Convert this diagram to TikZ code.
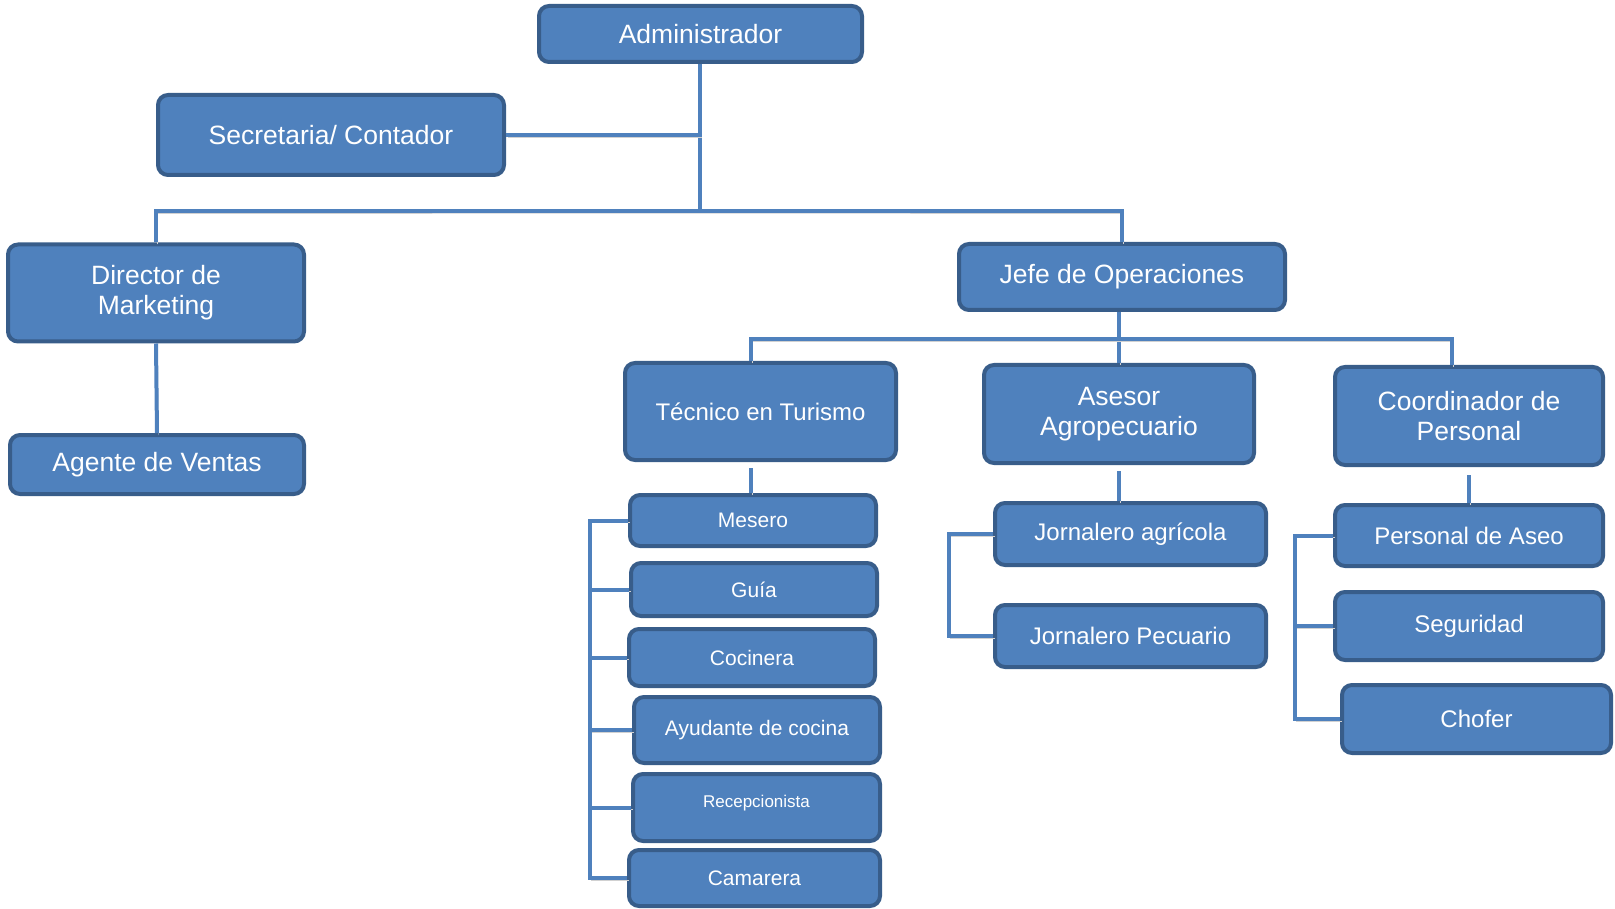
\documentclass[tikz,border=0pt]{standalone}
\usepackage{fontspec}
\setmainfont{Liberation Sans}
\definecolor{boxfill}{HTML}{4F81BD}
\definecolor{boxline}{HTML}{385D8A}
\definecolor{linkblue}{HTML}{4F81BD}
\tikzset{every picture/.append style={x=1pt, y=-1pt}}
\tikzset{
    box/.style={rectangle, rounded corners=10pt, fill=boxfill, draw=boxline,
    	line width=4pt, text=white, align=center,
    	font=\fontsize{26.5}{30}\selectfont},
    box m/.style={box, font=\fontsize{24}{28}\selectfont},
    box s/.style={box, font=\fontsize{21}{25}\selectfont},
    box xs/.style={box, font=\fontsize{17}{20}\selectfont},
    link/.style={draw=linkblue, line width=4pt,
    	preaction={draw=black!18, transform canvas={shift={(1.5pt,-2pt)}}}}
}

\begin{document}
\begin{tikzpicture}
  \useasboundingbox (0,0) rectangle (1615,909);
  \node (admin) [box, minimum width=323pt, minimum height=56pt] at (700.5, 34) {Administrador};
  \node (secr) [box, minimum width=346pt, minimum height=80pt] at (331, 135) {Secretaria/ Contador};
  \node (dir_m) [box, minimum width=296pt, minimum height=97pt] at (156, 293) {Director de\\Marketing};
  \node (agente) [box, minimum width=294pt, minimum height=59pt] at (157, 464.5) {Agente de Ventas};
  \node (jefe_op) [box, minimum width=326pt, minimum height=66pt] at (1122, 277) {Jefe de Operaciones};
  \node (tec_t) [box m, minimum width=271pt, minimum height=97pt] at (760.5, 411.5) {Técnico en Turismo};
  \node (asesor) [box, minimum width=270pt, minimum height=98pt] at (1119, 414) {Asesor\\Agropecuario};
  \node (coord_p) [box, minimum width=268pt, minimum height=98pt] at (1469, 416) {Coordinador de\\Personal};

  \node (mes) [box s, minimum width=246pt, minimum height=51pt] at (753, 520.5) {Mesero};
  \node (guia) [box s, minimum width=246pt, minimum height=53pt] at (754, 589.5) {Guía};
  \node (coc) [box s, minimum width=246pt, minimum height=57pt] at (752, 657.5) {Cocinera};
  \node (ayu) [box s, minimum width=246pt, minimum height=66pt] at (757, 730) {Ayudante de cocina};
  \node (rec) [box xs, text depth=12pt, minimum width=247pt, minimum height=67pt] at (756.5, 807.5) {Recepcionista};
  \node (cam) [box s, minimum width=251pt, minimum height=56pt] at (754.5, 878) {Camarera};

  \node (jor_a) [box m, minimum width=271pt, minimum height=62pt] at (1130.5, 534) {Jornalero agrícola};
  \node (jor_p) [box m, minimum width=271pt, minimum height=62pt] at (1130.5, 636) {Jornalero Pecuario};

  \node (aseo) [box m, minimum width=268pt, minimum height=61pt] at (1469, 535.5) {Personal de Aseo};
  \node (seg) [box m, minimum width=268pt, minimum height=68pt] at (1469, 626) {Seguridad};
  \node (chofer) [box m, minimum width=269pt, minimum height=68pt] at (1476.5, 719) {Chofer};

  % bus lines
  \coordinate (bus_top) at (700, 211);
  \coordinate (op_l) at (751, 339);
  \coordinate (op_r) at (1452, 339);
  \coordinate (br_t) at (590, 0);
  \coordinate (br_j) at (949, 0);
  \coordinate (br_p) at (1295, 0);

  \draw [link] (admin.south -| bus_top) -- (bus_top);
  \draw [link] (secr.east) -- (secr.east -| bus_top);
  \draw [link] (dir_m.north) |- (bus_top) -| (jefe_op.north);
  \draw [link] (dir_m.south) -- (agente.north);

  \draw [link] (asesor.north |- jefe_op.south) -- (asesor.north);
  \draw [link] (op_l |- tec_t.north) |- (op_r) -- (op_r |- coord_p.north);

  \draw [link] (mes.north -| op_l) -- ++(0,-25);
  \draw [link] (jor_a.north -| asesor.south) -- ++(0,-30);
  \draw [link] (aseo.north -| coord_p.south) -- ++(0,-28);

  \draw [link] (mes.west) -| (br_t |- cam.west) -- (cam.west);
  \foreach \n in {guia, coc, ayu, rec}
    \draw [link] (\n.west) -- (\n.west -| br_t);
  \draw [link] (jor_a.west) -| (br_j |- jor_p.west) -- (jor_p.west);
  \draw [link] (aseo.west) -| (br_p |- chofer.west) -- (chofer.west);
  \draw [link] (seg.west) -- (seg.west -| br_p);
\end{tikzpicture}
\end{document}
